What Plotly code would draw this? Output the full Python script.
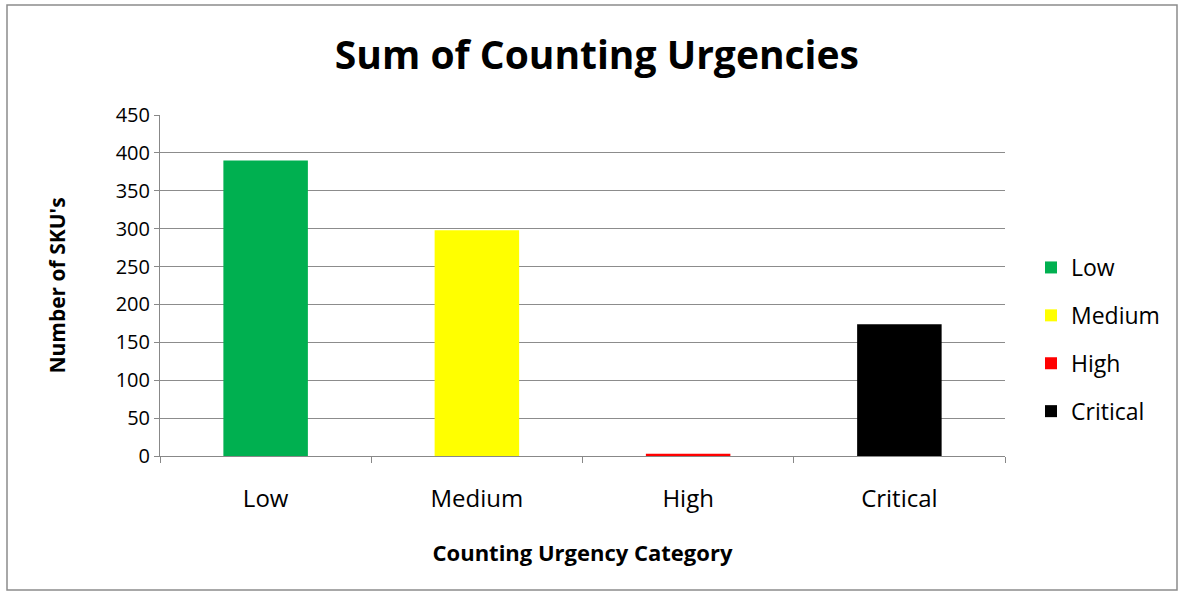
import plotly.graph_objects as go

# Counting urgency data
categories = ["Low", "Medium", "High", "Critical"]
sku_counts = [390, 298, 3, 174]
bar_colors = ["#00B050", "#FFFF00", "#FF0000", "#000000"]

FONT = "Open Sans, Lato, Arial, sans-serif"

fig = go.Figure()
for cat, val, col in zip(categories, sku_counts, bar_colors):
    fig.add_trace(go.Bar(
        x=[cat], y=[val], name=cat, legendgroup=cat,
        marker=dict(color=col, line=dict(width=0)),
        width=0.4,
    ))

W, H = 1182, 595
ml, mr, mt, mb = 160, 177, 115, 139
pw, ph = W - ml - mr, H - mt - mb

def px_to_paper_x(px):
    return (px - ml) / pw

def px_to_paper_y(py):
    return (H - mb - py) / ph

fig.update_layout(
    width=W, height=H,
    margin=dict(l=ml, r=mr, t=mt, b=mb),
    paper_bgcolor="white", plot_bgcolor="white",
    barmode="overlay",
    title=dict(
        text="<b>Sum of Counting Urgencies</b>",
        x=0.505, xanchor="center", y=1 - 55 / H, yanchor="middle",
        font=dict(family=FONT, size=39, color="black"),
    ),
    font=dict(family=FONT, color="black"),
    xaxis=dict(
        type="category",
        tickson="boundaries", ticks="outside", ticklen=6, tickcolor="#888888",
        showline=True, linecolor="#888888", linewidth=1,
        tickfont=dict(size=24), showgrid=False, ticklabelstandoff=21,
        title=dict(text="<b>Counting Urgency Category</b>", font=dict(size=22), standoff=32),
    ),
    yaxis=dict(
        range=[0, 450], dtick=50,
        ticks="outside", ticklen=5, tickcolor="#888888",
        showline=True, linecolor="#888888", linewidth=1,
        showgrid=True, gridcolor="#8C8C8C", gridwidth=1,
        tickfont=dict(size=20),
        title=dict(text="<b>Number of SKU's</b>", font=dict(size=21), standoff=44),
        zeroline=False,
    ),
    legend=dict(
        x=px_to_paper_x(1031), xanchor="left",
        y=px_to_paper_y(246), yanchor="top",
        font=dict(size=23), traceorder="grouped", tracegroupgap=15,
        itemwidth=30, bgcolor="rgba(0,0,0,0)",
    ),
    shapes=[dict(
        type="rect", xref="paper", yref="paper",
        x0=px_to_paper_x(7), x1=px_to_paper_x(1177),
        y0=px_to_paper_y(590), y1=px_to_paper_y(5),
        line=dict(color="#8C8C8C", width=1.5), layer="below",
    )],
)

fig.write_html("out.html")
